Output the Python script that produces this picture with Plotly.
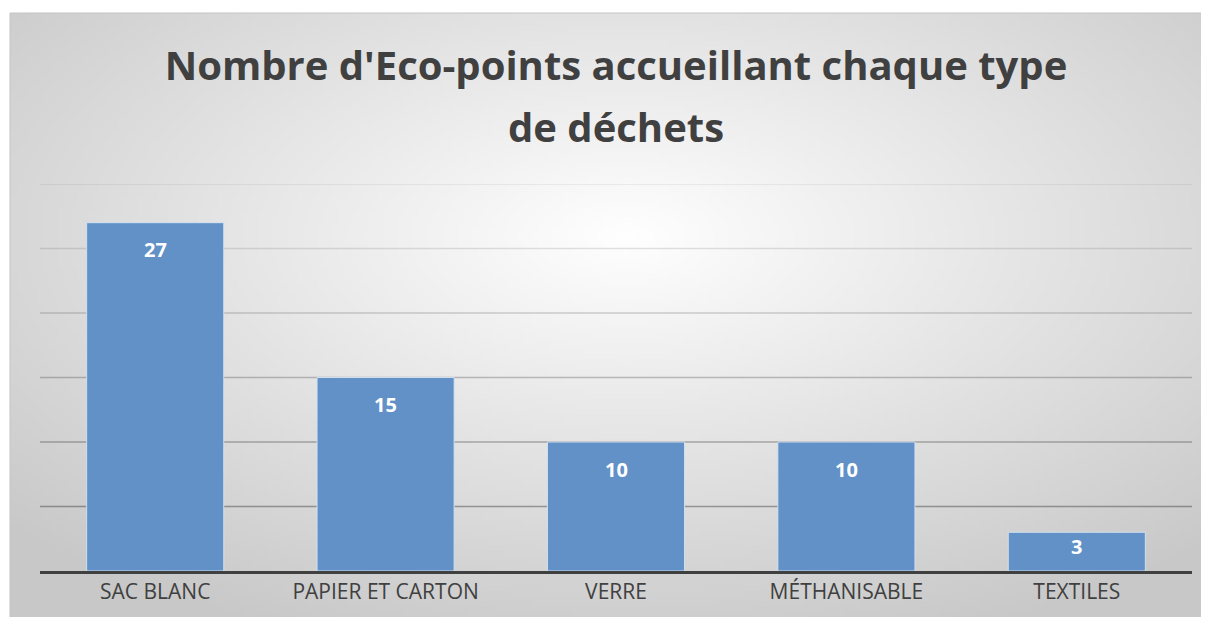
import plotly.graph_objects as go
import numpy as np
import zlib, struct, base64

categories = ["SAC BLANC", "PAPIER ET CARTON", "VERRE", "MÉTHANISABLE", "TEXTILES"]
values = [27, 15, 10, 10, 3]
grid_vals = [5, 10, 15, 20, 25, 30]
title_line1 = "Nombre d'Eco-points accueillant chaque type"
title_line2 = "de déchets"

# page body has an 8px margin on every side: figure coordinates = reference - 8
OFF = 8
FW, FH = 1209 - 2 * OFF, 625 - 2 * OFF

# ---- radial gradient background as PNG ----
W, H = 240, 122
yy, xx = np.mgrid[0:H, 0:W]
cx, cy = W * 0.51, H * 0.36
d = np.sqrt(((xx - cx) / (W / 2)) ** 2 + ((yy - cy) / (H / 2)) ** 2) / np.sqrt(2)
d = np.clip(d, 0, 1)
g = (255 - 55 * d ** 1.0).astype(np.uint8)
rgb = np.stack([g, g, g], axis=-1)
raw = b"".join(b"\x00" + rgb[r].tobytes() for r in range(H))
def chunk(t, data):
    c = struct.pack(">I", len(data)) + t + data
    return c + struct.pack(">I", zlib.crc32(t + data) & 0xffffffff)
png = b"\x89PNG\r\n\x1a\n" + chunk(b"IHDR", struct.pack(">IIBBBBB", W, H, 8, 2, 0, 0, 0)) \
      + chunk(b"IDAT", zlib.compress(raw, 9)) + chunk(b"IEND", b"")
bg_src = "data:image/png;base64," + base64.b64encode(png).decode()

# plot area (reference px): x 40..1192, y 184..571
L = 40 - OFF
R = (FW + OFF) - 1192
T = 184 - OFF
B = (FH + OFF) - 571
pw, ph = FW - L - R, FH - T - B
YMAX = 30

fig = go.Figure()
fig.add_trace(go.Bar(
    x=categories, y=values,
    marker=dict(color="#6191c7", line=dict(color="rgba(215,228,243,0.9)", width=1)),
    width=0.595,
    hoverinfo="x+y",
))

for c, v in zip(categories, values):
    bar_px = v / YMAX * ph
    fig.add_annotation(x=c, y=v, text=f"<b>{v}</b>", showarrow=False,
                       yshift=-min(27, 0.37 * bar_px),
                       font=dict(family="Open Sans", size=20, color="white"))

def px(xr):  # reference x -> paper
    return (xr - OFF - L) / pw
def py(yr):  # reference y -> paper
    return (FH - B - (yr - OFF)) / ph

fig.add_layout_image(
    source=bg_src, xref="paper", yref="paper",
    x=px(10), y=py(13),
    sizex=px(1212) - px(10), sizey=py(13) - py(628),
    xanchor="left", yanchor="top", sizing="stretch", layer="below",
)
fig.add_shape(type="rect", xref="paper", yref="paper",
              x0=px(10), x1=px(1215), y0=py(630), y1=py(13),
              line=dict(color="#c4c4c4", width=1), layer="below")

# gridlines: darker towards the bottom, as in the reference
grid_alpha = {5: 0.45, 10: 0.38, 15: 0.30, 20: 0.22, 25: 0.15, 30: 0.10}
for gv in grid_vals:
    fig.add_shape(type="line", xref="paper", yref="y", x0=0, x1=1, y0=gv, y1=gv,
                  line=dict(color=f"rgba(60,60,60,{grid_alpha[gv]})", width=1.3),
                  layer="below")

fig.add_annotation(xref="paper", yref="paper", x=px(616), y=py(126),
                   text=f"<b>{title_line2}</b>", showarrow=False,
                   xanchor="center", yanchor="middle",
                   font=dict(family="Open Sans", size=40, color="#404040"))

fig.update_layout(
    width=FW, height=FH,
    margin=dict(l=L, r=R, t=T, b=B),
    paper_bgcolor="white", plot_bgcolor="rgba(0,0,0,0)",
    title=dict(text=f"<b>{title_line1}</b>", x=(616 - OFF) / FW, xanchor="center",
               y=1 - (66 - OFF) / FH, yanchor="middle",
               font=dict(family="Open Sans", size=40, color="#404040")),
    showlegend=False,
    xaxis=dict(showline=True, linecolor="#404040", linewidth=3, automargin=False,
               tickfont=dict(family="Open Sans", size=21, color="#404040"),
               ticks="", showgrid=False),
    yaxis=dict(range=[0, YMAX], showticklabels=False, automargin=False,
               showline=False, showgrid=False, zeroline=False, ticks=""),
    bargap=0.4,
)
fig.write_html("out.html")
